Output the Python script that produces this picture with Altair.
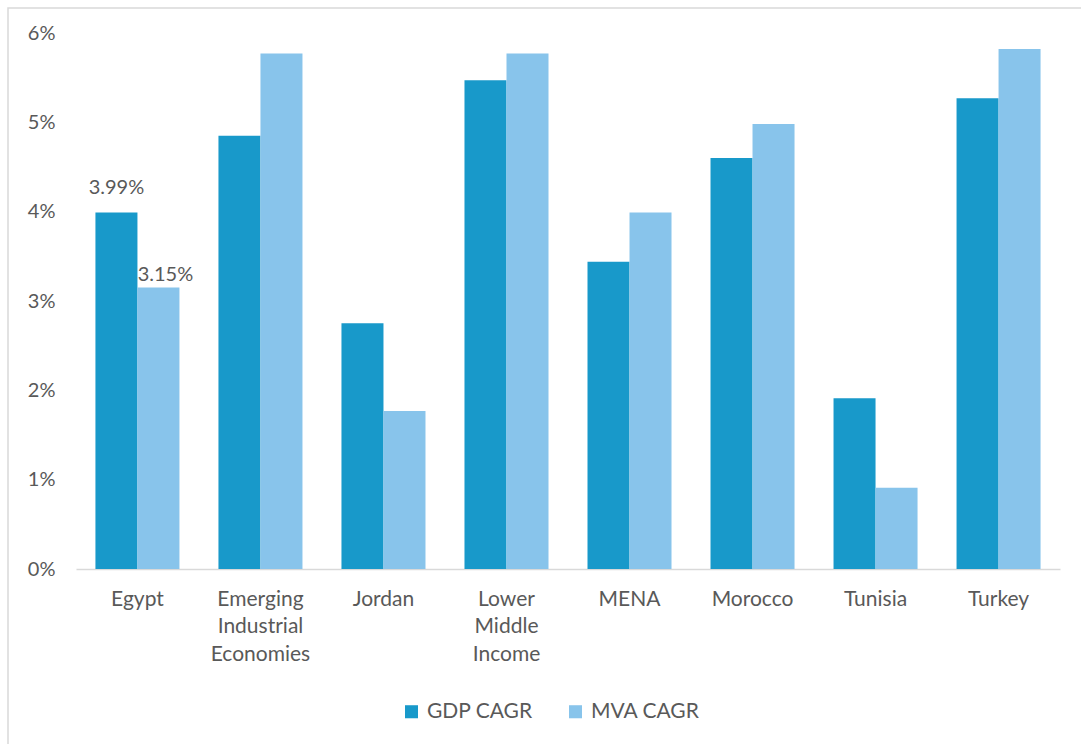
import altair as alt
import pandas as pd

categories = ["Egypt", "Emerging Industrial Economies", "Jordan", "Lower Middle Income",
              "MENA", "Morocco", "Tunisia", "Turkey"]
series = ["GDP CAGR", "MVA CAGR"]
gdp = [0.0399, 0.0485, 0.0275, 0.0547, 0.0344, 0.0460, 0.0191, 0.0527]
mva = [0.0315, 0.0577, 0.0177, 0.0577, 0.0399, 0.0498, 0.0091, 0.0582]
labelled = ["Egypt"]

rows = []
for c, g, m in zip(categories, gdp, mva):
    rows.append({"cat": c, "series": series[0], "value": g, "show": c in labelled})
    rows.append({"cat": c, "series": series[1], "value": m, "show": c in labelled})
df = pd.DataFrame(rows)

FONT = "Lato"
TXT = "#595959"
FS = 20
colors = ["#1899ca", "#88c4eb"]

x = alt.X("cat:N", sort=categories, title=None,
          scale=alt.Scale(paddingInner=0.317, paddingOuter=0.158),
          axis=alt.Axis(labelAngle=0, labelExpr="split(datum.value, ' ')",
                        labelLineHeight=27.5, labelFontSize=21, labelPadding=19,
                        labelColor=TXT, labelFont=FONT, domainColor="#d9d9d9",
                        domainWidth=1.5, ticks=False, grid=False, labelBaseline="top"))
y = alt.Y("value:Q", title=None,
          scale=alt.Scale(domain=[0, 0.06], nice=False),
          axis=alt.Axis(format=".0%", values=[0, 0.01, 0.02, 0.03, 0.04, 0.05, 0.06],
                        domain=False, ticks=False, grid=False, labelFontSize=FS,
                        labelColor=TXT, labelFont=FONT, labelPadding=21))

base = alt.Chart(df).encode(x=x, xOffset=alt.XOffset("series:N", sort=series,
                                                      scale=alt.Scale(paddingInner=0, paddingOuter=0)))

bars = base.mark_bar().encode(
    y=y,
    color=alt.Color("series:N", sort=series,
                    scale=alt.Scale(domain=series, range=colors),
                    legend=alt.Legend(title=None, orient="none", direction="horizontal",
                                      legendX=325, legendY=668, symbolType="square",
                                      symbolSize=170, labelFontSize=21, labelColor=TXT,
                                      labelFont=FONT, columnPadding=32, labelOffset=5,
                                      symbolOpacity=1)),
)

lab1 = base.transform_filter("datum.show && datum.series == 'GDP CAGR'").mark_text(
    baseline="bottom", dy=-15, fontSize=FS, font=FONT, color=TXT
).encode(y=alt.Y("value:Q"), text=alt.Text("value:Q", format=".2%"))
lab2 = base.transform_filter("datum.show && datum.series == 'MVA CAGR'").mark_text(
    baseline="bottom", dy=-3, dx=7, fontSize=FS, font=FONT, color=TXT
).encode(y=alt.Y("value:Q"), text=alt.Text("value:Q", format=".2%"))

frame = alt.Chart(pd.DataFrame({"a": [0]})).mark_rect(
    fill=None, stroke="#d9d9d9", strokeWidth=1.5
).encode(x=alt.value(-68), x2=alt.value(1060), y=alt.value(-25), y2=alt.value(760))

chart = alt.layer(frame, bars, lab1, lab2).properties(
    width=984, height=536,
    autosize=alt.AutoSizeParams(type="none"),
    padding={"left": 76, "top": 33, "right": 21, "bottom": 175},
    background="white",
).configure_view(stroke=None)

chart.save("out.html", embed_options={"renderer": "svg", "actions": False})
